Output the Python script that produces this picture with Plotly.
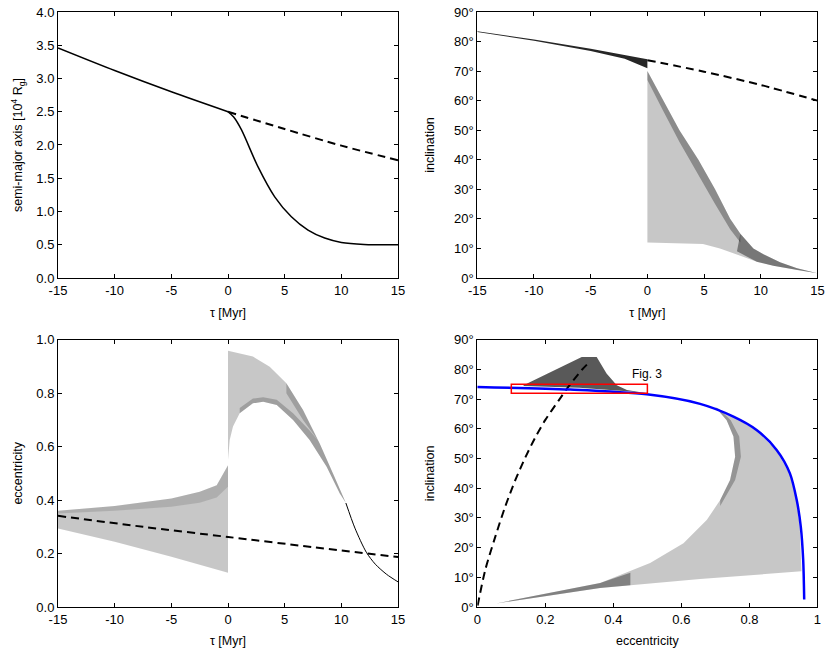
import plotly.graph_objects as go

# ---- panel a : semi-major axis vs tau ----
a_tau_before = [-15, -10, -5, 0]
a_before = [3.46, 3.12, 2.80, 2.50]
a_tau_after = [0, 0.5, 1.18, 2.65, 4.12, 5.59, 7.06, 8.53, 10.0, 12.0, 15]
a_after = [2.50, 2.42, 2.23, 1.67, 1.22, 0.92, 0.72, 0.60, 0.535, 0.505, 0.50]
a_dash_tau = [0, 5, 10, 15]
a_dash_val = [2.50, 2.24, 1.99, 1.77]

# ---- panel b : inclination vs tau ----
ib_band_tau = [-15, -10, -5, -2, 0]
ib_band_hi = [83.5, 80.7, 77.6, 75.5, 74.0]
ib_band_lo = [83.2, 80.3, 76.8, 74.2, 71.0]
ib_up_tau = [0, 1.4, 2.83, 4.5, 5.97, 7.3, 8.2, 9.35, 10.24, 11.7, 13.2, 15]
ib_up_val = [70, 60, 50, 40, 30, 20, 15, 10, 8.0, 5.3, 3.3, 1.6]
ib_lo_tau = [0, 2.9, 4.9, 6.4, 7.9, 9.65, 11.1, 13.2, 15]
ib_lo_val = [12, 11.8, 11.5, 10.0, 7.8, 5.5, 4.1, 2.7, 1.6]
ib_strip_tau = [0, 1.4, 2.83, 4.5, 5.97, 7.3, 8.2, 8.2, 7.3, 5.97, 4.5, 2.83, 1.4, 0]
ib_strip_val = [70, 60, 50, 40, 30, 20, 15, 12, 16.5, 25, 35, 46, 56.5, 67]
ib_corner_tau = [8.2, 9.35, 10.24, 11.7, 13.2, 15, 13.2, 11.1, 9.65, 7.9]
ib_corner_val = [15, 10, 8.0, 5.3, 3.3, 1.6, 2.7, 4.1, 5.5, 9.0]
ib_dash_tau = [0, 5, 10, 15]
ib_dash_val = [73.7, 69.8, 65.3, 60.0]

# ---- panel c : eccentricity vs tau ----
ec_left_tau_hi = [-15, -10, -5, -2.5, -1, 0]
ec_left_hi = [0.36, 0.378, 0.406, 0.431, 0.456, 0.53]
ec_left_tau_lo = [-15, -10, -5, 0]
ec_left_lo = [0.294, 0.244, 0.188, 0.128]
ec_lstrip_tau = [-15, -10, -5, -2.5, -1, 0, 0, -1, -2.5, -5, -10, -15]
ec_lstrip = [0.36, 0.378, 0.406, 0.431, 0.456, 0.53, 0.45, 0.41, 0.39, 0.375, 0.36, 0.35]
ec_right_tau_hi = [0, 2.2, 3.68, 5.15, 6.62, 8.09, 9.26, 10.4]
ec_right_hi = [0.959, 0.937, 0.899, 0.837, 0.737, 0.612, 0.50, 0.389]
ec_right_tau_lo = [0, 0.15, 0.44, 1.03, 2.2, 3.1, 4.3, 5.74, 7.2, 8.7, 9.85, 10.4]
ec_right_lo = [0.55, 0.625, 0.675, 0.725, 0.762, 0.768, 0.756, 0.70, 0.625, 0.525, 0.426, 0.389]
ec_rstrip_tau = [5.15, 6.62, 8.09, 9.26, 10.4, 9.85, 8.7, 7.2, 5.74, 4.3, 3.1, 2.2, 1.03,
                 1.03, 2.2, 3.1, 4.3, 5.74, 7.2, 8.0, 6.62, 5.15]
ec_rstrip = [0.837, 0.737, 0.612, 0.50, 0.389, 0.426, 0.525, 0.625, 0.70, 0.756, 0.768, 0.762, 0.725,
             0.745, 0.78, 0.785, 0.775, 0.725, 0.66, 0.62, 0.70, 0.80]
ec_tail_tau = [10.4, 11.2, 12.2, 13.0, 14.0, 15]
ec_tail = [0.389, 0.295, 0.205, 0.16, 0.122, 0.094]
ec_dash_tau = [-15, -7.5, 0, 7.5, 15]
ec_dash = [0.341, 0.30, 0.262, 0.224, 0.187]

# ---- panel d : inclination vs eccentricity ----
d_blue_e = [0, 0.273, 0.498, 0.655, 0.753, 0.821, 0.88, 0.919, 0.939, 0.951, 0.958, 0.961]
d_blue_i = [74.1, 73.2, 71.6, 68.4, 64.1, 59.6, 52.9, 45, 36, 27, 15.9, 2.5]
d_dash_e = [0.001, 0.0235, 0.053, 0.082, 0.112, 0.141, 0.17, 0.2, 0.239, 0.268, 0.307, 0.33]
d_dash_i = [0.5, 12.5, 23.7, 33.8, 42.8, 50.3, 57.0, 63.0, 69.5, 74.2, 79.8, 82.5]
d_top_e = [0.136, 0.224, 0.307, 0.351, 0.38, 0.41, 0.44, 0.498, 0.45, 0.3, 0.136]
d_top_i = [74.7, 79.5, 84.2, 84.2, 78.6, 74.7, 73.1, 72.0, 72.6, 73.8, 74.4]
d_inner_e = [0.055, 0.2, 0.361, 0.508, 0.606, 0.675, 0.714, 0.743, 0.758, 0.753, 0.733, 0.70]
d_inner_i = [1.2, 4.5, 8.1, 14.8, 21.5, 29.4, 36, 42.8, 50.6, 57.4, 62.9, 67.3]
d_outer_e = [0.753, 0.821, 0.88, 0.919, 0.939, 0.948, 0.953]
d_outer_i = [64.0, 59.4, 52.6, 44.6, 35.8, 26.8, 12.0]
d_bottom_e = [0.953, 0.655, 0.361, 0.2, 0.055]
d_bottom_i = [12.0, 9.4, 6.4, 3.6, 1.2]
d_strip_e = [0.70, 0.733, 0.753, 0.758, 0.743, 0.714, 0.714, 0.758, 0.775, 0.77, 0.745, 0.71]
d_strip_i = [67.3, 62.9, 57.4, 50.6, 42.8, 36, 34, 42.8, 50.6, 57.4, 62.9, 66.8]
d_wedge_e = [0.055, 0.2, 0.361, 0.45, 0.45, 0.361, 0.2, 0.055]
d_wedge_i = [1.2, 4.5, 8.1, 11.5, 7.3, 6.4, 3.6, 1.2]
box_e = [0.1, 0.5]
box_i = [72, 75]

FONT = "Liberation Sans, Arial, sans-serif"
GRAY = "rgba(0,0,0,0.22)"

fig = go.Figure()


def cloud(x, y, xa, ya, color=GRAY):
    fig.add_trace(go.Scatter(x=x, y=y, xaxis=xa, yaxis=ya, mode="lines", fill="toself",
                             fillcolor=color, line=dict(width=0), hoverinfo="skip"))


def line(x, y, xa, ya, color="black", width=1.5, dash=None):
    fig.add_trace(go.Scatter(x=x, y=y, xaxis=xa, yaxis=ya, mode="lines",
                             line=dict(color=color, width=width, dash=dash, shape="spline",
                                       smoothing=0.8)))


DASH = "8px,5px"

# panel a
line(a_dash_tau, a_dash_val, "x", "y", width=2, dash=DASH)
line(a_tau_before, a_before, "x", "y", width=1.5)
line(a_tau_after, a_after, "x", "y", width=1.5)

# panel b
cloud(ib_up_tau + ib_lo_tau[::-1], ib_up_val + ib_lo_val[::-1], "x2", "y2")
cloud(ib_strip_tau, ib_strip_val, "x2", "y2", "rgba(0,0,0,0.3)")
cloud(ib_corner_tau, ib_corner_val, "x2", "y2", "rgba(0,0,0,0.4)")
cloud(ib_band_tau + ib_band_tau[::-1], ib_band_hi + ib_band_lo[::-1], "x2", "y2", "rgba(0,0,0,0.85)")
line(ib_dash_tau, ib_dash_val, "x2", "y2", width=2, dash=DASH)

# panel c
cloud(ec_left_tau_hi + ec_left_tau_lo[::-1], ec_left_hi + ec_left_lo[::-1], "x3", "y3")
cloud(ec_lstrip_tau, ec_lstrip, "x3", "y3", "rgba(0,0,0,0.12)")
cloud(ec_right_tau_hi + ec_right_tau_lo[::-1], ec_right_hi + ec_right_lo[::-1], "x3", "y3")
cloud(ec_rstrip_tau, ec_rstrip, "x3", "y3", "rgba(0,0,0,0.2)")
line(ec_tail_tau, ec_tail, "x3", "y3", width=1)
line(ec_dash_tau, ec_dash, "x3", "y3", width=2, dash=DASH)

# panel d
cloud(d_inner_e + d_outer_e + d_bottom_e, d_inner_i + d_outer_i + d_bottom_i, "x4", "y4")
cloud(d_strip_e, d_strip_i, "x4", "y4", "rgba(0,0,0,0.25)")
cloud(d_wedge_e, d_wedge_i, "x4", "y4", "rgba(0,0,0,0.35)")
cloud(d_top_e, d_top_i, "x4", "y4", "rgba(0,0,0,0.65)")
line(d_dash_e, d_dash_i, "x4", "y4", width=2, dash=DASH)
line(d_blue_e, d_blue_i, "x4", "y4", color="#0000ff", width=2.5)

fig.add_shape(type="rect", xref="x4", yref="y4", x0=box_e[0], x1=box_e[1], y0=box_i[0], y1=box_i[1],
              line=dict(color="red", width=1.5))
fig.add_annotation(xref="x4", yref="y4", x=0.498, y=78.5, text="Fig. 3", showarrow=False,
                   font=dict(family=FONT, size=12, color="black"))

axis_common = dict(showline=True, linecolor="black", linewidth=1, mirror="ticks", automargin=False,
                   ticks="inside", ticklen=4, tickcolor="black", showgrid=False, zeroline=False,
                   tickfont=dict(family=FONT, size=13, color="black"),
                   title_font=dict(family=FONT, size=12.5, color="black"))

tau_ticks = [-15, -10, -5, 0, 5, 10, 15]
tau_text = [str(t) for t in tau_ticks]
deg_ticks = [0, 10, 20, 30, 40, 50, 60, 70, 80, 90]
deg_text = [f"{d}°" for d in deg_ticks]
xl = [0, 0.4474]
xr = [0.5517, 0.9993]
yt = [0.553, 1.0]
yb = [0.0, 0.4492]

fig.update_layout(
    width=830, height=648, plot_bgcolor="white", paper_bgcolor="white", showlegend=False,
    margin=dict(l=58, r=12, t=12, b=41, autoexpand=False),
    xaxis=dict(domain=xl, anchor="y", range=[-15, 15], tickvals=tau_ticks, ticktext=tau_text,
               title=dict(text="τ [Myr]", standoff=11), **axis_common),
    yaxis=dict(domain=yt, anchor="x", range=[0, 4], dtick=0.5, tickformat=".1f",
               title=dict(text="semi-major axis [10<sup>4</sup> R<sub>g</sub>]", standoff=10), **axis_common),
    xaxis2=dict(domain=xr, anchor="y2", range=[-15, 15], tickvals=tau_ticks, ticktext=tau_text,
                title=dict(text="τ [Myr]", standoff=11), **axis_common),
    yaxis2=dict(domain=yt, anchor="x2", range=[0, 90], tickvals=deg_ticks, ticktext=deg_text,
                title=dict(text="inclination", standoff=16), **axis_common),
    xaxis3=dict(domain=xl, anchor="y3", range=[-15, 15], tickvals=tau_ticks, ticktext=tau_text,
                title=dict(text="τ [Myr]", standoff=11), **axis_common),
    yaxis3=dict(domain=yb, anchor="x3", range=[0, 1], dtick=0.2, tickformat=".1f",
                title=dict(text="eccentricity", standoff=10), **axis_common),
    xaxis4=dict(domain=xr, anchor="y4", range=[0, 1], tickvals=[0, 0.2, 0.4, 0.6, 0.8, 1],
                ticktext=["0", "0.2", "0.4", "0.6", "0.8", "1"],
                title=dict(text="eccentricity", standoff=11), **axis_common),
    yaxis4=dict(domain=yb, anchor="x4", range=[0, 90], tickvals=deg_ticks, ticktext=deg_text,
                title=dict(text="inclination", standoff=16), **axis_common),
)

# the page body has a default 8px margin; remove it so the figure sits at the window origin
fig.write_html("out.html", config={"displayModeBar": False},
               post_script="document.body.style.margin='0px';")
